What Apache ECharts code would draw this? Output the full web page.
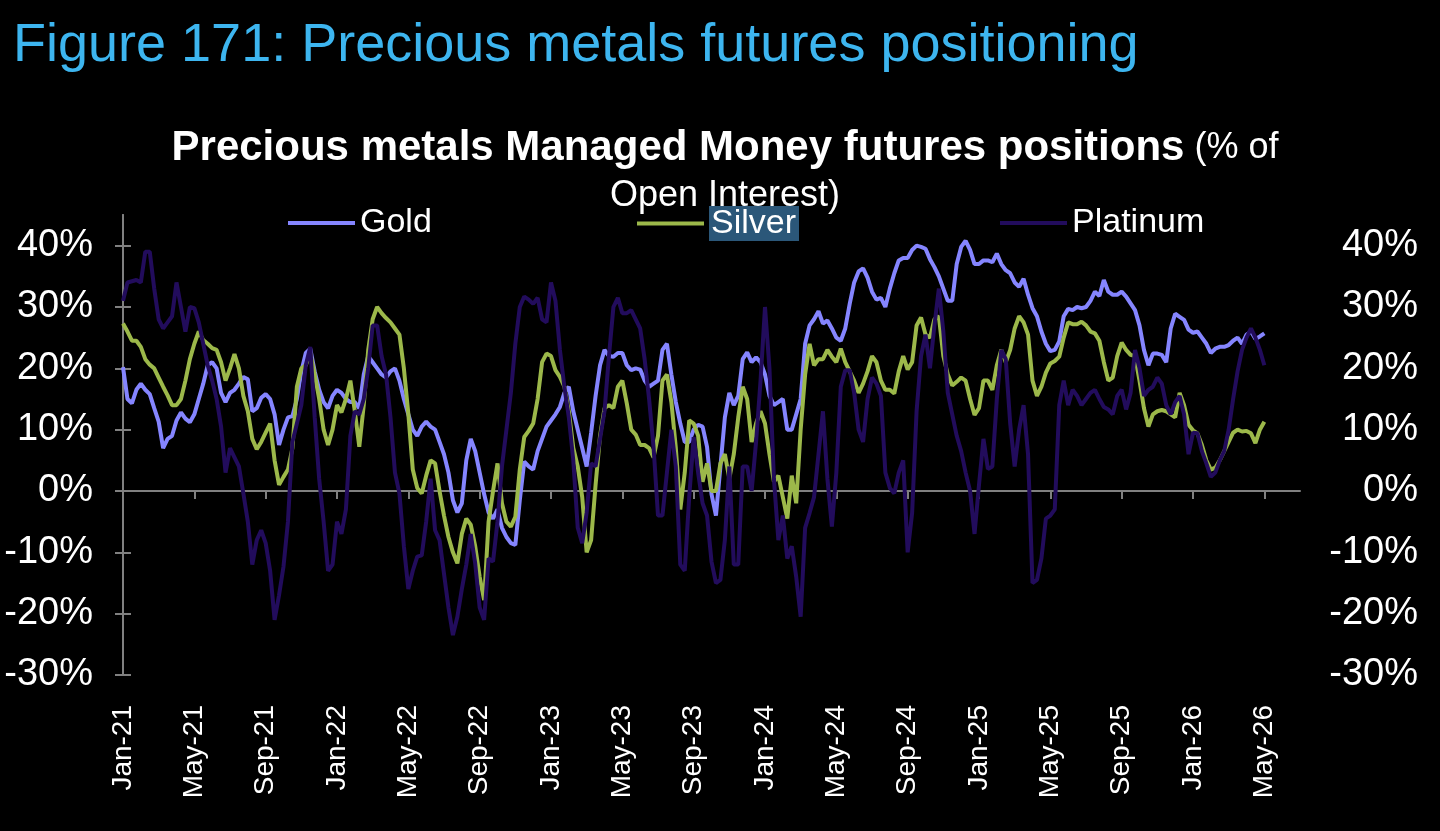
<!DOCTYPE html>
<html>
<head>
<meta charset="utf-8">
<title>Precious metals futures positioning</title>
<script src="https://cdn.jsdelivr.net/npm/echarts@6/dist/echarts.min.js"></script>
<style>
  html, body { margin: 0; padding: 0; background: #000; }
  #chart { width: 1440px; height: 831px; }
</style>
</head>
<body>
<div id="chart"></div>
<script>
// one reading every quarter month (about weekly), starting Jan-21
var step = 0.25;

var tickLabels = ['Jan-21', 'May-21', 'Sep-21', 'Jan-22', 'May-22', 'Sep-22', 'Jan-23', 'May-23', 'Sep-23',
    'Jan-24', 'May-24', 'Sep-24', 'Jan-25', 'May-25', 'Sep-25', 'Jan-26', 'May-26'];
var yTicks = [-30, -20, -10, 0, 10, 20, 30, 40];

// Managed Money net positions, % of open interest
var gold = [
    20.2, 15, 14.3, 16.5, 17.5, 16.5, 15.8, 13.5, 11.3, 7, 8.5, 9, 11.5, 12.8, 11.8, 11.2,
    12.5, 15, 17.5, 20.5, 21, 20, 16, 14.5, 16, 16.5, 17.5, 18.6, 18.2, 13, 13.5, 15.2,
    15.8, 15, 12.5, 7.5, 10, 12, 12.2, 15, 19.5, 22.5, 23.2, 19.5, 16.5, 14.5, 13.5, 15.5,
    16.5, 16, 15, 14.5, 14.5, 13.5, 19, 22, 21, 20, 19, 18.5, 19.5, 20, 18, 15,
    12.5, 10, 9, 10.5, 11.3, 10.5, 10, 8, 6, 3, -1.5, -3.5, -2, 5, 8.5, 6.5,
    3, -0.5, -3.5, -4.5, -3, -6, -7.5, -8.5, -8.8, -1.5, 4.8, 4, 3.5, 6.5, 8.5, 10.5,
    11.5, 12.5, 13.7, 16, 17, 13, 10, 7, 4, 9.5, 15.5, 20.5, 23, 22, 21.9, 22.5,
    22.5, 20.5, 19.7, 20, 19.8, 18, 17, 17.5, 18, 23, 24, 19, 14.5, 11, 8, 8,
    10, 10.8, 10.5, 7.2, -0.5, -4, 4, 12, 16, 14, 15.5, 21.5, 22.6, 21, 21.8, 21,
    19, 15.5, 14, 14.5, 15, 10, 10, 12.5, 15, 24, 27, 28, 29.3, 27.3, 27.8, 26.5,
    25, 24.5, 26.5, 30.5, 34, 35.8, 36.3, 34.8, 32.5, 31.2, 31.5, 30, 33, 35.5, 37.6, 38,
    38, 39.3, 40, 39.8, 39.5, 37.8, 36.5, 35, 33, 31, 31, 37, 39.8, 40.8, 39.3, 37,
    37, 37.6, 37.6, 37.3, 38.7, 37, 36, 35.5, 34, 33.3, 34.6, 32, 29.8, 28.5, 26, 24,
    22.8, 23, 24.4, 28.5, 29.7, 29.5, 30, 29.8, 30, 31, 32.5, 31.8, 34.4, 32.5, 32, 32,
    32.5, 31.7, 30.6, 29.5, 27, 23, 20.5, 22.4, 22.4, 22.2, 21, 26.5, 28.9, 28.4, 27.9, 26.3,
    25.8, 26, 25, 24, 22.5, 23.2, 23.5, 23.5, 23.8, 24.5, 25, 24, 25.5, 26, 24.8, 25.2,
    25.7
];

var silver = [
    27.3, 26, 24.5, 24.5, 23.5, 21.5, 20.6, 20, 18.5, 17, 15.6, 14, 14, 15, 18, 21.5,
    24, 26, 24.6, 24, 23.3, 23, 21, 18, 20, 22.3, 20, 15.5, 13, 8.5, 6.8, 8,
    9.5, 11, 5, 1, 2.3, 3.5, 7, 17, 20, 20.5, 22.5, 19, 15, 10, 7.5, 10,
    14, 12.8, 15, 18, 13, 7.2, 14, 23, 28, 30, 29, 28.2, 27.5, 26.5, 25.5, 20,
    12.6, 3.5, 0.5, -0.4, 2.5, 5, 4.5, 0, -4, -7.5, -10, -11.8, -7, -4.5, -5.5, -9,
    -14, -17.8, -5, 0, 4.5, -2, -5, -5.8, -4.2, 3.5, 8.8, 9.8, 11, 15, 21, 22.4,
    22, 19.7, 18.6, 17, 13, 7, 4, -1, -10, -8, 1, 9, 13.5, 14, 13.5, 17,
    18, 14.3, 10, 9.2, 7.5, 7.5, 7, 5.5, 9, 18, 19, 14.5, 7, -3, 3, 11.5,
    11, 9, 1.5, 4.5, 0, 0, 4.5, 6, 2, 6, 12, 17, 15, 8, 11, 13,
    11, 6, 1.5, 2.5, -1, -4.5, 2.5, -2, 10, 19, 24, 20.5, 21.5, 21.5, 23, 21.9,
    21, 23.2, 21, 19.5, 18, 16, 17.5, 19.5, 22, 21, 18, 16.5, 16.5, 15.9, 19.5, 22,
    19.8, 21, 27, 28.3, 25.5, 25, 28, 28.5, 22, 19, 17.2, 17.8, 18.5, 18, 15, 12.4,
    13.5, 18, 18, 16.5, 20.5, 23, 21, 23, 26.5, 28.5, 27.5, 25.5, 18, 15.5, 17, 19.3,
    20.8, 21.2, 21.9, 25, 27.5, 27.2, 27.2, 27.6, 27, 26, 25.7, 24.5, 21, 18, 18.5, 22,
    24.2, 23, 22.2, 22, 18, 13.5, 10.5, 12.5, 13, 13.2, 13, 12.5, 12, 16, 14, 10.8,
    9.9, 9.4, 7.5, 5, 3.5, 3.8, 5, 6.5, 8, 9.5, 10, 9.7, 9.8, 9.4, 7.8, 10,
    11.3
];

var platinum = [
    31, 34, 34.2, 34.4, 34, 39, 39, 33, 28, 26.5, 27.5, 28.5, 34, 30, 26, 30,
    29.8, 27.5, 24, 20.5, 18, 15, 10.5, 3, 7, 5.5, 4, -0.4, -5, -12, -8, -6.4,
    -8.5, -13, -21, -17, -12.3, -5, 8, 11, 14, 20.5, 23.5, 12, 2, -5, -13, -12,
    -5, -7, -3, 9, 13, 12.5, 15, 20, 27, 27, 22, 19, 12, 3, -0.4, -9,
    -16, -13, -10.7, -10.5, -5, 2, -6.4, -8, -13.5, -19, -23.5, -20.5, -16, -12, -7, -11.8,
    -19, -21, -11, -11.5, -5, 4, 10, 16, 24, 30, 31.7, 31.2, 30.5, 31.5, 28, 27.5,
    34, 31, 23, 17, 12, 5, -6, -8.5, -3.5, 4.5, 4, 8.5, 13, 22, 30, 31.5,
    29, 29, 29.5, 28, 26.5, 21.5, 15, 7.2, -4, -4, 3, 10, 4, -12, -13, -1,
    8.8, 3, -2, -4, -11.5, -15, -14.5, -8, 4, -12, -12, 4, 4, 0, 8, 18,
    30, 20, 2, -8, -4, -11, -9, -14, -20.5, -6, -3.6, -1, 6, 13, 2, -5.8,
    3, 17, 19.7, 19.7, 16, 10, 8, 15, 18.5, 17.5, 15.5, 3, 0.5, -0.4, 3, 5,
    -10, -3.6, 13, 22, 25.5, 20, 27, 33, 26, 16, 12.5, 9, 6.5, 3, 0, -7,
    1, 8.5, 3.6, 4, 15, 23, 21.5, 11, 4, 10, 14, 6, -15, -14.5, -11, -4.5,
    -4, -3, 14, 18, 14, 16.5, 15.5, 14, 15, 16, 16.5, 15, 13.7, 13.3, 12.5, 15.5,
    16.5, 13.3, 16, 23, 20, 15.5, 16.5, 17, 18.5, 17.5, 14, 12.5, 14.5, 15.5, 12.5, 6,
    9.5, 9.4, 6.5, 4.5, 2.3, 3, 5, 6.5, 10, 15, 19.5, 23, 25, 26.5, 25, 23,
    20.5
];

var toPoints = function (list) {
    return list.map(function (v, i) { return [i * step, v]; });
};

var tickValues = tickLabels.map(function (t, i) { return i * 4; });
var axisGray = '#808080';
var font = '"Liberation Sans", Arial, sans-serif';

var myChart = echarts.init(document.getElementById('chart'));

var legendBase = function (name, left) {
    return {
        data: [name],
        left: left,
        top: 201,
        icon: 'rect',
        itemWidth: 67,
        itemHeight: 4,
        selectedMode: false,
        textStyle: { color: '#fff', fontSize: 34, fontFamily: font }
    };
};
var silverLegend = legendBase('Silver', 632);
silverLegend.formatter = function (n) { return '{hl|' + n + '}'; };
silverLegend.textStyle.rich = {
    hl: { color: '#fff', fontSize: 34, fontFamily: font, backgroundColor: '#2b5779', padding: [1, 3, 0, 2] }
};

myChart.setOption({
    backgroundColor: '#000',
    animation: false,
    title: [
        {
            text: 'Figure 171: Precious metals futures positioning',
            left: 8,
            top: 14,
            textStyle: { color: '#3db5ef', fontSize: 54, fontWeight: 'normal', fontFamily: font }
        },
        {
            text: '{b|Precious metals Managed Money futures positions}{n| (% of}\n{n|Open Interest)}',
            left: 720,
            top: 119,
            textAlign: 'center',
            textStyle: {
                color: '#fff',
                rich: {
                    b: { color: '#fff', fontSize: 42, fontWeight: 'bold', fontFamily: font, lineHeight: 48 },
                    n: { color: '#fff', fontSize: 36, fontWeight: 'normal', fontFamily: font, lineHeight: 48 }
                }
            }
        }
    ],
    legend: [
        legendBase('Gold', 283),
        silverLegend,
        legendBase('Platinum', 995)
    ],
    grid: { left: 123, right: 140, top: 215, bottom: 156 },
    xAxis: [
        {
            // zero line with the month ticks
            type: 'value',
            min: 0,
            max: 66,
            position: 'bottom',
            axisLine: { onZero: true, lineStyle: { color: axisGray, width: 2 } },
            axisTick: { show: true, length: 8, customValues: tickValues, lineStyle: { color: axisGray, width: 2 } },
            axisLabel: { show: false },
            splitLine: { show: false }
        },
        {
            // month labels along the bottom
            type: 'value',
            min: 0,
            max: 66,
            position: 'bottom',
            axisLine: { show: false, onZero: false },
            axisTick: { show: false },
            axisLabel: {
                customValues: tickValues,
                rotate: 90,
                margin: 30,
                color: '#fff',
                fontSize: 28,
                fontFamily: font,
                formatter: function (v) { return tickLabels[Math.round(v / 4)]; }
            },
            splitLine: { show: false }
        }
    ],
    yAxis: [
        {
            type: 'value',
            position: 'left',
            min: -30,
            max: 45,
            axisLine: { show: true, lineStyle: { color: axisGray, width: 2 } },
            axisTick: { show: true, length: 8, customValues: yTicks, lineStyle: { color: axisGray, width: 2 } },
            axisLabel: { customValues: yTicks, color: '#fff', fontSize: 38, fontFamily: font, margin: 30, formatter: '{value}%' },
            splitLine: { show: false }
        },
        {
            type: 'value',
            position: 'right',
            min: -30,
            max: 45,
            axisLine: { show: true, lineStyle: { color: axisGray, width: 2 } },
            axisTick: { show: true, length: 8, customValues: yTicks, lineStyle: { color: axisGray, width: 2 } },
            axisLabel: { customValues: yTicks, color: '#fff', fontSize: 38, fontFamily: font, margin: 118, align: 'right', formatter: '{value}%' },
            splitLine: { show: false }
        }
    ],
    series: [
        { name: 'Gold', type: 'line', data: toPoints(gold), symbol: 'none', color: '#8585ff', lineStyle: { width: 4 } },
        { name: 'Silver', type: 'line', data: toPoints(silver), symbol: 'none', color: '#9cb84a', lineStyle: { width: 4 } },
        { name: 'Platinum', type: 'line', data: toPoints(platinum), symbol: 'none', color: '#220c5c', lineStyle: { width: 4 } }
    ]
});
</script>
</body>
</html>
